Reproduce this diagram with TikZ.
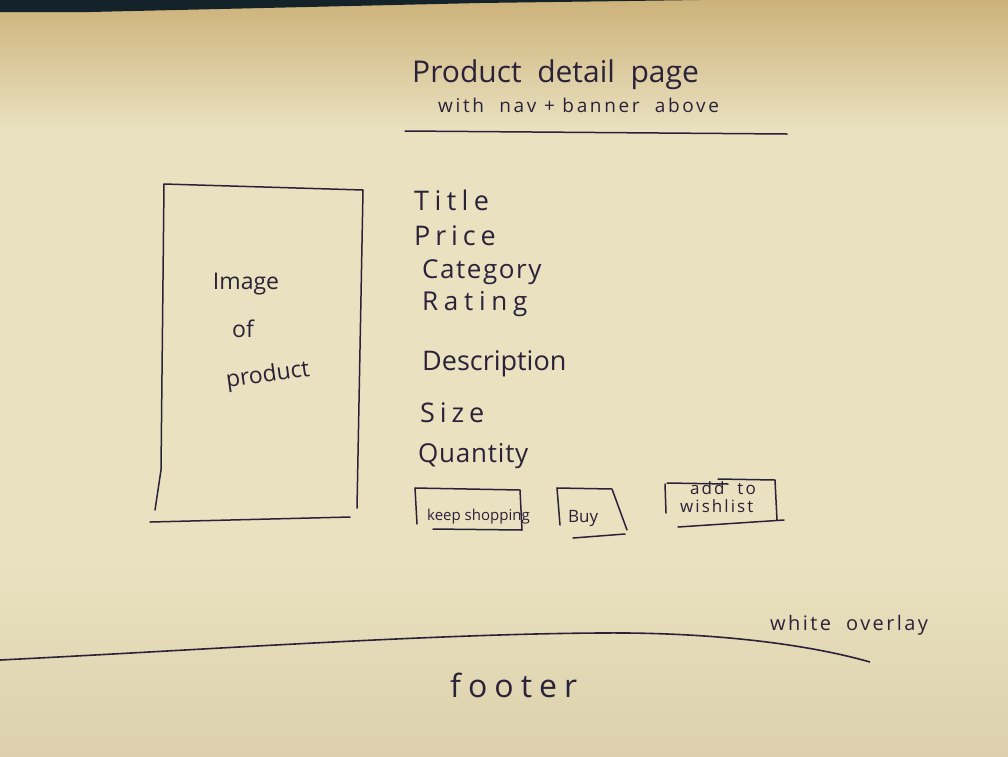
\documentclass[tikz,border=0pt]{standalone}
\usepackage{fontspec}
\setmainfont{Open Sans}
\newcommand{\pensize}[2]{\fontsize{#1}{#1}\selectfont\addfontfeature{LetterSpace=#2}}
\begin{document}
\begin{tikzpicture}[x=1pt,y=-1pt,
  ink/.style={draw=penink,line width=1.5pt,line cap=round,line join=round},
  hand/.style={text=penink,inner sep=0pt,anchor=base west},
  field/.style={hand,font=\pensize{26}{0}},
  btn/.style={hand,font=\pensize{15}{0}}]
\definecolor{penink}{HTML}{2A2238}
\definecolor{paper}{HTML}{E9E1C0}
\definecolor{papertop}{HTML}{CDB27A}
\definecolor{paperlow}{HTML}{DCD1AC}
\definecolor{desk}{HTML}{14232A}
\useasboundingbox (0,0) rectangle (1008,756);
% sheet of paper
\shade[top color=papertop,bottom color=paper,middle color=paper] (0,0) rectangle (1008,260);
\fill[paper] (0,259) rectangle (1008,560);
\shade[top color=paper,bottom color=paperlow] (0,559) rectangle (1008,756);
% desk showing above the sheet
\fill[desk] (0,0) -- (700,0) -- (480,3) -- (90,12) -- (0,12) -- cycle;

% heading
\node[hand,font=\pensize{30}{0}] (title) at (412,82) {Product\ \ detail\ \ page};
\node[hand,font=\pensize{19}{14}] (sub) at (438,112) {with\ \ nav + banner\ \ above};
\coordinate (rulel) at (405,131);
\coordinate (ruler) at (787,134);
\draw[ink] (rulel) -- (ruler);

% product image frame
\coordinate (imtl) at (164,184);
\coordinate (imtr) at (363,190);
\coordinate (imbr) at (357,508);
\coordinate (imbl) at (155,510);
\coordinate (imfl) at (150,522);
\coordinate (imfr) at (350,517);
\draw[ink] (imtl) -- (imtr) -- (imbr);
\draw[ink] (imtl) -- (161,470) -- (imbl);
\draw[ink] (imfl) -- (imfr);
\node[hand,anchor=center,font=\fontsize{23}{23}\selectfont] (img1) at (246,284) {Image};
\node[hand,anchor=center,font=\fontsize{23}{23}\selectfont] (img2) at (243,329) {of};
\node[hand,anchor=center,rotate=8,font=\fontsize{23}{23}\selectfont] (img3) at (268,376) {product};

% product fields
\node[field,font=\pensize{27}{20}] (ftitle) at (414,210) {Title};
\node[field,font=\pensize{27}{18}] (fprice) at (414,245) {Price};
\node[field,font=\pensize{26}{6}] (fcat) at (422,278) {Category};
\node[field,font=\pensize{26}{22}] (frate) at (422,310) {Rating};
\node[field,font=\pensize{27}{0}] (fdesc) at (422,370) {Description};
\node[field,font=\pensize{27}{18}] (fsize) at (420,422) {Size};
\node[field,font=\pensize{26}{3}] (fqty) at (418,462) {Quantity};

% action buttons
\draw[ink] (415,488) -- (520,490) -- (522,530) -- (433,529);
\draw[ink] (415,488) -- (417,524);
\node[btn] (bkeep) at (427,520) {keep shopping};
\draw[ink] (557,488) -- (612,489) -- (627,530);
\draw[ink] (557,488) -- (560,525);
\draw[ink] (573,538) -- (625,534);
\node[btn,font=\pensize{17}{0}] (bbuy) at (568,522) {Buy};
\draw[ink] (665,484) -- (666,513);
\draw[ink] (667,483) -- (728,484);
\draw[ink] (718,479) -- (775,480) -- (777,520);
\draw[ink] (678,527) -- (784,520);
\node[btn,font=\pensize{17}{12}] (bwish1) at (690,494) {add\ \ to};
\node[btn,font=\pensize{17}{12}] (bwish2) at (680,512) {wishlist};

% footer boundary
\coordinate (fl) at (0,660);
\coordinate (fr) at (870,662);
\draw[draw=penink,line width=1.6pt] (fl) .. controls (200,650) and (430,634) .. (600,633)
  .. controls (700,632) and (800,642) .. (fr);
\node[hand,font=\pensize{20}{12}] (overlay) at (770,630) {white\ \ overlay};
\node[hand,font=\pensize{32}{22}] (footer) at (450,697) {footer};
\end{tikzpicture}
\end{document}
